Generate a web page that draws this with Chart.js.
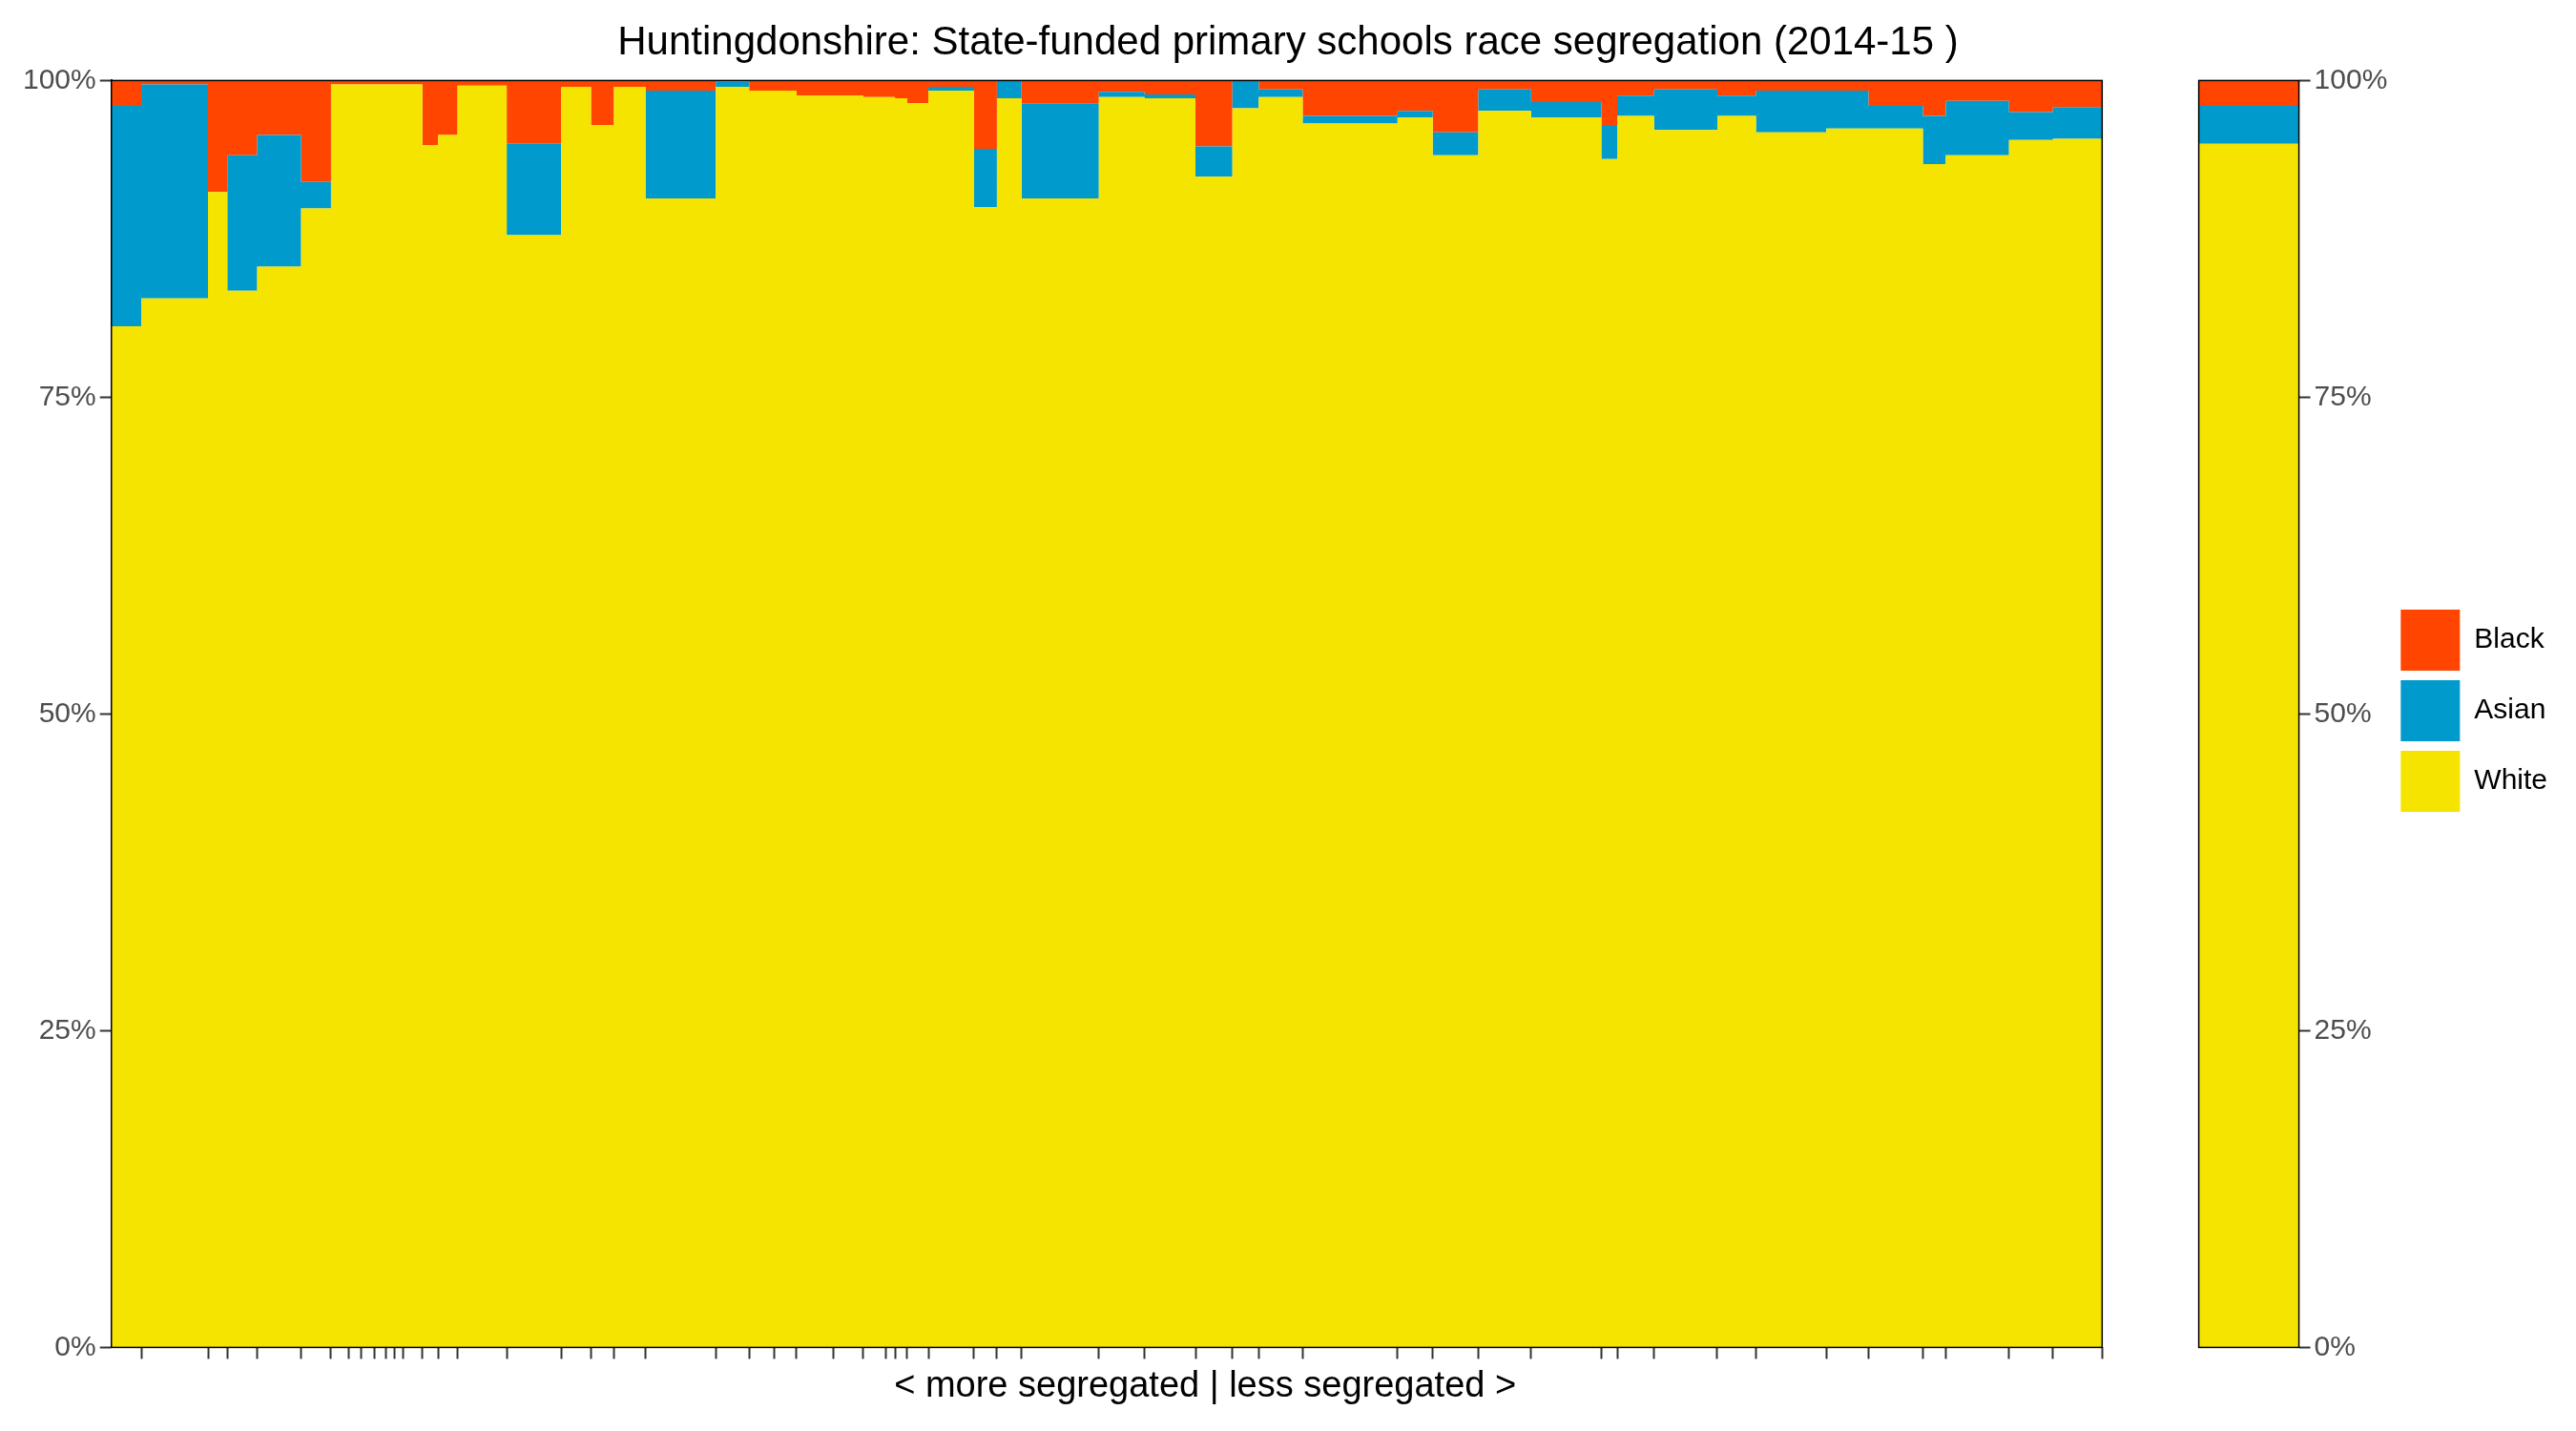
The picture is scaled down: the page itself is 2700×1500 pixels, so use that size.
<!DOCTYPE html>
<html>
<head>
<meta charset="utf-8">
<script src="https://cdn.jsdelivr.net/npm/chart.js@4"></script>
<style>
  body { margin: 0; background: #fff; }
  #wrap { width: 2700px; height: 1500px; }
</style>
</head>
<body>
<div id="wrap"><canvas id="segChart" width="2700" height="1500"></canvas></div>
<script>
// school sizes (relative widths), ordered more -> less segregated
const schoolSizes = [17, 38, 11, 17, 25, 17, 10, 7, 8, 6, 5, 5, 11, 9, 11, 28, 31, 17, 13, 18, 40, 19, 14, 13, 21, 17, 13, 5, 7, 12,
  26, 13, 14, 44, 26, 29, 21, 15, 25, 54, 20, 26, 30, 40, 9, 21, 36, 22, 40, 24, 31, 13, 36, 25, 28];
// % white per school
const whitePct = [80.6, 82.8, 91.2, 83.4, 85.3, 89.9, 99.7, 99.7, 99.7, 99.7, 99.7, 99.7, 99.7, 94.9, 95.7, 99.6, 87.8, 99.5, 96.5, 99.5,
  90.7, 99.5, 99.2, 99.2, 98.8, 98.8, 98.7, 98.7, 98.6, 98.2, 99.2, 90.0, 98.6, 90.7, 98.7, 98.6, 92.4, 97.8, 98.7, 96.6,
  97.1, 94.1, 97.6, 97.1, 93.8, 97.2, 96.1, 97.2, 95.9, 96.2, 96.2, 93.4, 94.1, 95.3, 95.4];
// % white + asian per school (remainder is black)
const whiteAsianPct = [98.0, 99.7, 91.2, 94.1, 95.7, 92.0, 99.7, 99.7, 99.7, 99.7, 99.7, 99.7, 99.7, 94.9, 95.7, 99.6, 95.0, 99.5, 96.5, 99.5,
  99.2, 99.9, 99.2, 99.2, 98.8, 98.8, 98.7, 98.7, 98.6, 98.2, 99.5, 94.6, 100, 98.2, 99.1, 98.9, 94.8, 100, 99.3, 97.2,
  97.6, 95.9, 99.3, 98.3, 96.5, 98.8, 99.3, 98.8, 99.2, 99.2, 98.0, 97.2, 98.4, 97.5, 97.9];
// whole district
const overallWhite = 95.0;
const overallWhiteAsian = 98.0;
const gapWidth = 55;
const overallWidth = 57;
const yTicks = [0, 25, 50, 75, 100];

const bounds = [0];
schoolSizes.forEach(w => bounds.push(bounds[bounds.length - 1] + w));
const mainEnd = bounds[bounds.length - 1];
const ovStart = mainEnd + gapWidth;
const ovEnd = ovStart + overallWidth;

function steps(vals, overall) {
  const pts = vals.map((v, i) => ({ x: bounds[i], y: v }));
  pts.push({ x: mainEnd, y: vals[vals.length - 1] });
  pts.push({ x: mainEnd + 1, y: null });
  pts.push({ x: ovStart, y: overall });
  pts.push({ x: ovEnd, y: overall });
  return pts;
}

const panels = {
  id: 'panels',
  afterDatasetsDraw(chart) {
    const { ctx, scales: { x, y } } = chart;
    ctx.save();
    ctx.strokeStyle = '#000';
    ctx.lineWidth = 1.5;
    const t = y.getPixelForValue(100), b = y.getPixelForValue(0);
    [[0, mainEnd], [ovStart, ovEnd]].forEach(([a, c]) => {
      const l = x.getPixelForValue(a), r = x.getPixelForValue(c);
      ctx.strokeRect(l, t, r - l, b - t);
    });
    ctx.restore();
  }
};

const fmt = { family: 'Liberation Sans', size: 30 };
new Chart(document.getElementById('segChart'), {
  type: 'line',
  data: {
    datasets: [
      { label: 'White', data: steps(whitePct, overallWhite), fill: 'origin', backgroundColor: '#f5e300' },
      { label: 'Asian', data: steps(whiteAsianPct, overallWhiteAsian), fill: '-1', backgroundColor: '#009acd' },
      { label: 'Black', data: steps(whitePct.map(() => 100), 100), fill: '-1', backgroundColor: '#ff4500' }
    ].map(d => Object.assign(d, { stepped: 'before', borderWidth: 0, pointRadius: 0, spanGaps: false }))
  },
  options: {
    responsive: false,
    animation: false,
    devicePixelRatio: 1,
    layout: { padding: { left: 20, right: 20, top: 10, bottom: 20 } },
    plugins: {
      title: { display: true, text: 'Huntingdonshire: State-funded primary schools race segregation (2014-15 )',
        color: '#000', font: { family: 'Liberation Sans', size: 42, weight: 'normal' }, padding: { top: 10, bottom: 14 } },
      legend: { position: 'right', reverse: true,
        labels: { boxWidth: 62, boxHeight: 64, padding: 10, color: '#000', font: { family: 'Liberation Sans', size: 30 } } },
      tooltip: { enabled: false }
    },
    scales: {
      x: { type: 'linear', min: 0, max: ovEnd,
        afterBuildTicks: s => { s.ticks = bounds.slice(1).map(v => ({ value: v })); },
        ticks: { display: false },
        grid: { drawOnChartArea: false, color: '#333', tickLength: 12, tickWidth: 2 },
        border: { display: false },
        title: { display: true, text: '< more segregated | less segregated >', color: '#000',
          font: { family: 'Liberation Sans', size: 38 }, padding: { top: 6 } } },
      y: { min: 0, max: 100,
        afterBuildTicks: s => { s.ticks = yTicks.map(v => ({ value: v })); },
        ticks: { callback: v => v + '%', color: '#4d4d4d', font: fmt, padding: 4 },
        grid: { drawOnChartArea: false, color: '#333', tickLength: 12, tickWidth: 2 },
        border: { display: true, color: '#333', width: 2 } },
      y2: { position: 'right', min: 0, max: 100,
        afterBuildTicks: s => { s.ticks = yTicks.map(v => ({ value: v })); },
        ticks: { callback: v => v + '%', color: '#4d4d4d', font: fmt, padding: 4 },
        grid: { drawOnChartArea: false, color: '#333', tickLength: 12, tickWidth: 2 },
        border: { display: false } }
    }
  },
  plugins: [panels]
});
</script>
</body>
</html>
